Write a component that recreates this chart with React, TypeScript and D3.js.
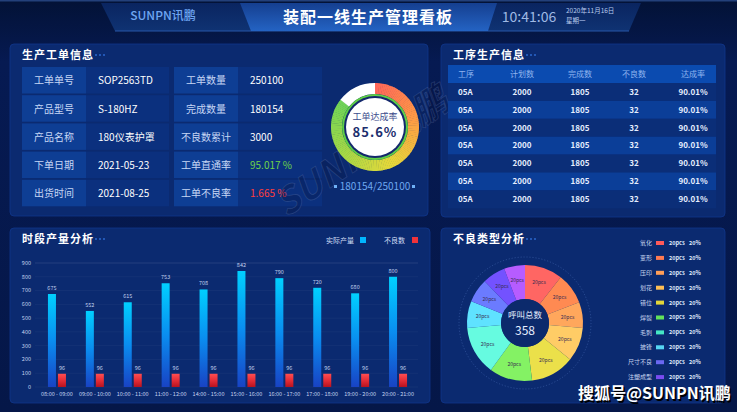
import React from 'react';
import * as d3 from 'd3';

const W = 737, H = 412;
const FONT = '"Noto Sans CJK SC", "Noto Sans", sans-serif';

// ---- data ----
const headerTitle = '装配一线生产管理看板';
const brand = 'SUNPN讯鹏';
const clock = '10:41:06';
const dateText = '2020年11月16日';
const weekText = '星期一';

const infoLeftLabels = ['工单单号', '产品型号', '产品名称', '下单日期', '出货时间'];
const infoLeftValues = ['SOP2563TD', 'S-180HZ', '180仪表护罩', '2021-05-23', '2021-08-25'];
const infoRightLabels = ['工单数量', '完成数量', '不良数累计', '工单直通率', '工单不良率'];
const infoRightValues = ['250100', '180154', '3000', '95.017 %', '1.665 %'];
const infoRightColors = ['#ffffff', '#ffffff', '#ffffff', '#6fd34a', '#ff3d3d'];

const gaugeRate = 85.6;
const completedQty = 180154;
const orderQty = 250100;

const processHeaders = ['工序', '计划数', '完成数', '不良数', '达成率'];
const processRows = [
  ['05A', '2000', '1805', '32', '90.01%'],
  ['05A', '2000', '1805', '32', '90.01%'],
  ['05A', '2000', '1805', '32', '90.01%'],
  ['05A', '2000', '1805', '32', '90.01%'],
  ['05A', '2000', '1805', '32', '90.01%'],
  ['05A', '2000', '1805', '32', '90.01%'],
  ['05A', '2000', '1805', '32', '90.01%'],
];

const hours = ['08:00 - 09:00', '09:00 - 10:00', '10:00 - 11:00', '11:00 - 12:00', '14:00 - 15:00',
  '15:00 - 16:00', '16:00 - 17:00', '17:00 - 18:00', '19:00 - 20:00', '20:00 - 21:00'];
const actualOutput = [675, 552, 615, 753, 708, 842, 790, 720, 680, 800];
const defectCounts = [96, 96, 96, 96, 96, 96, 96, 96, 96, 96];
const yTicks = [0, 100, 200, 300, 400, 500, 600, 700, 800, 900];

const defectTypes = ['氧化', '变形', '压印', '划花', '错位', '焊裂', '毛刺', '披锋', '尺寸不良', '注塑成型'];
const defectPcs = ['20pcs', '20pcs', '20pcs', '20pcs', '20pcs', '20pcs', '20pcs', '20pcs', '20pcs', '20pcs'];
const defectPct = ['20%', '20%', '20%', '20%', '20%', '20%', '20%', '20%', '20%', '20%'];
const legendColors = ['#ff5a5a', '#ff7b52', '#ff9e58', '#ffbf55', '#e2d63a', '#62e25a', '#45e6c4', '#57d6f3', '#6a68f2', '#7a4cf0'];

const pieShares = [38, 31, 26, 34, 44, 43, 49, 27, 24, 23, 21];
const pieLabels = ['20pcs', '20pcs', '20pcs', '20pcs', '20pcs', '20pcs', '20pcs', '20pcs', '20pcs', '20pcs', '20pcs'];
const pieColors = ['#ff6663', '#ff8a52', '#ffa75c', '#ffcc66', '#ebe04a', '#84f264', '#66fbe0', '#5fe2ff', '#6b7bff', '#7352ff', '#b65cff'];
const totalCallsLabel = '呼叫总数';
const totalCalls = 358;

const gaugeStops = ['#ff665a', '#ff9a45', '#e8d83a', '#a4d846', '#70d458'];

function Panel({ x, y, w, h, title }: { x: number; y: number; w: number; h: number; title: string }) {
  return (
    <g>
      <rect x={x} y={y} width={w} height={h} rx={4} fill="#0b2a70" stroke="#10368a" strokeWidth={0.8} />
      <text x={x + 12} y={y + 15} fill="#ffffff" fontSize={11} fontWeight={700} letterSpacing={1} fontFamily={FONT}>{title}</text>
      {[0, 1, 2].map(i => (
        <circle key={i} cx={x + 14 + title.length * 12 + i * 4} cy={y + 11} r={1} fill="#2b67cc" />
      ))}
    </g>
  );
}

export default function App() {
  // ---- gauge ----
  const gcx = 375, gcy = 127;
  const gArc = d3.arc<any>().innerRadius(33).outerRadius(44);
  const filled = (gaugeRate / 100) * Math.PI * 2;
  const gColor = d3.scaleLinear<string>()
    .domain(gaugeStops.map((_, i) => (i / (gaugeStops.length - 1)) * filled))
    .range(gaugeStops).interpolate(d3.interpolateRgb);
  const segN = 120;
  const segs = d3.range(segN).map(i => {
    const a0 = (i / segN) * filled, a1 = ((i + 1) / segN) * filled + 0.01;
    return { a0, a1, c: gColor((a0 + a1) / 2) };
  });

  // ---- bar chart ----
  const xBand = d3.scaleBand<string>().domain(hours).range([38, 417]);
  const yScale = d3.scaleLinear().domain([0, 900]).range([387, 263]);
  const barW = 8;

  // ---- pie ----
  const pcx = 525, pcy = 323;
  const pie = d3.pie<number>().sort(null).value(d => d)(pieShares);
  const pArc = d3.arc<any>().innerRadius(24).outerRadius(58);
  const lArc = d3.arc<any>().innerRadius(43).outerRadius(43);

  // ---- process table ----
  const colX = [458, 522, 580, 634, 693];
  const rowTop = 83, rowH = 17.9;

  return (
    <svg width={W} height={H} viewBox={`0 0 ${W} ${H}`} style={{ position: 'fixed', left: 0, top: 0 }} fontFamily={FONT}>
      <defs>
        <linearGradient id="bg" x1="0" y1="0" x2="0" y2="1">
          <stop offset="0" stopColor="#031236" />
          <stop offset="0.15" stopColor="#061a52" />
          <stop offset="1" stopColor="#051748" />
        </linearGradient>
        <linearGradient id="band" x1="0" y1="0" x2="0" y2="1">
          <stop offset="0" stopColor="#0a2560" />
          <stop offset="1" stopColor="#0f3373" />
        </linearGradient>
        <linearGradient id="titleBand" x1="0" y1="0" x2="0" y2="1">
          <stop offset="0" stopColor="#153f90" />
          <stop offset="1" stopColor="#2463c3" />
        </linearGradient>
        <linearGradient id="blueBar" x1="0" y1="0" x2="0" y2="1">
          <stop offset="0" stopColor="#00d0ff" />
          <stop offset="0.5" stopColor="#0a8df0" />
          <stop offset="1" stopColor="#1843c4" />
        </linearGradient>
        <linearGradient id="redBar" x1="0" y1="0" x2="0" y2="1">
          <stop offset="0" stopColor="#ff4d50" />
          <stop offset="0.45" stopColor="#e8303a" />
          <stop offset="1" stopColor="#b8121e" />
        </linearGradient>
      </defs>

      <rect x={0} y={0} width={W} height={H} fill="url(#bg)" />
      <rect x={0} y={0} width={W} height={1.5} fill="#23407a" />

      {/* header */}
      <polygon points="101,3 641,3 629,31 115,31" fill="url(#band)" />
      <line x1={115} y1={31} x2={629} y2={31} stroke="#2856a8" strokeWidth={1} />
      <polygon points="240,3 497,3 488,31 251,31" fill="url(#titleBand)" />
      <text x={163} y={20} textAnchor="middle" fill="#6fa6f2" fontSize={12} fontWeight={500}>{brand}</text>
      <text x={368} y={23} textAnchor="middle" fill="#ffffff" fontSize={16} fontWeight={700} letterSpacing={1}>{headerTitle}</text>
      <text x={529} y={22} textAnchor="middle" fill="#9fb9e4" fontSize={14}>{clock}</text>
      <text x={566} y={13} fill="#b8cbed" fontSize={6.5}>{dateText}</text>
      <text x={566} y={23} fill="#b8cbed" fontSize={6.5}>{weekText}</text>

      {/* panels */}
      <Panel x={10} y={44} w={418} h={172} title="生产工单信息" />
      <Panel x={441} y={44} w={284} h={173} title="工序生产信息" />
      <Panel x={10} y={228} w={420} h={175} title="时段产量分析" />
      <Panel x={441} y={228} w={284} h={175} title="不良类型分析" />

      {/* info table */}
      {infoLeftLabels.map((lab, i) => {
        const ty = 67 + i * 28.2;
        const cy = ty + 13.8;
        return (
          <g key={lab}>
            <rect x={22} y={ty} width={64} height={26.5} fill="#0e3e94" />
            <rect x={86} y={ty} width={83} height={26.5} fill="#0b307e" />
            <rect x={174} y={ty} width={64} height={26.5} fill="#0e3e94" />
            <rect x={238} y={ty} width={84} height={26.5} fill="#0b307e" />
            <text x={54} y={cy} dy="0.35em" textAnchor="middle" fill="#c6d6f4" fontSize={10}>{lab}</text>
            <text x={98} y={cy} dy="0.35em" fill="#ffffff" fontSize={10}>{infoLeftValues[i]}</text>
            <text x={206} y={cy} dy="0.35em" textAnchor="middle" fill="#c6d6f4" fontSize={10}>{infoRightLabels[i]}</text>
            <text x={250} y={cy} dy="0.35em" fill={infoRightColors[i]} fontSize={10}>{infoRightValues[i]}</text>
          </g>
        );
      })}

      {/* watermark (behind gauge) */}
      <text x={369} y={162} textAnchor="middle" transform="rotate(-34 369 162)" fontSize={36} fontWeight={700} fontStyle="italic"
        fill="rgba(6,18,60,0.28)" stroke="rgba(130,150,200,0.22)" strokeWidth={0.9} fontFamily={FONT}>{brand}</text>

      {/* gauge */}
      <g transform={`translate(${gcx},${gcy})`}>
        {segs.map((s, i) => (
          <path key={i} d={gArc({ startAngle: s.a0, endAngle: s.a1 }) as string} fill={s.c} />
        ))}
        <path d={gArc({ startAngle: filled, endAngle: Math.PI * 2 }) as string} fill="#ffffff" />
        <circle r={33} fill="#5fcf45" />
        <circle r={31} fill="#14286c" />
        <circle r={29} fill="#ffffff" />
        <text y={-7} textAnchor="middle" fill="#3b4c8c" fontSize={9}>工单达成率</text>
        <text y={10} textAnchor="middle" fill="#1c2e6e" fontSize={13} fontWeight={700} letterSpacing={1}>{gaugeRate.toFixed(1)}%</text>
      </g>
      <rect x={334} y={185} width={3} height={3} fill="#6fb0f5" />
      <rect x={412} y={185} width={3} height={3} fill="#6fb0f5" />
      <text x={375} y={190} textAnchor="middle" fill="#6ea8f0" fontSize={10}>{`${completedQty}/${orderQty}`}</text>

      {/* process table */}
      <rect x={448} y={65} width={268} height={18} fill="#0b4bb0" />
      {processHeaders.map((h, j) => (
        <text key={h} x={colX[j]} y={74} dy="0.35em" textAnchor={j === 0 ? 'start' : 'middle'} fill="#8fb5ef" fontSize={8}>{h}</text>
      ))}
      {processRows.map((row, i) => (
        <g key={i}>
          <rect x={448} y={rowTop + i * rowH} width={268} height={rowH} fill={i % 2 === 0 ? '#0b2e78' : '#0b3e98'} />
          {row.map((v, j) => (
            <text key={j} x={colX[j]} y={rowTop + i * rowH + rowH / 2} dy="0.35em" textAnchor={j === 0 ? 'start' : 'middle'} fill="#e6eeff" fontSize={8} fontWeight={700}>{v}</text>
          ))}
        </g>
      ))}

      {/* bar chart */}
      <text x={354} y={243} textAnchor="end" fill="#d2def5" fontSize={7}>实际产量</text>
      <rect x={360} y={237} width={6} height={6} fill="#00b6ff" />
      <text x={405} y={243} textAnchor="end" fill="#d2def5" fontSize={7}>不良数</text>
      <rect x={412} y={237} width={6} height={6} fill="#f0333a" />
      {yTicks.map(t => (
        <g key={t}>
          <line x1={35} x2={418} y1={yScale(t)} y2={yScale(t)} stroke="#ffffff" strokeOpacity={t === 900 ? 0.1 : 0.04} />
          <text x={31} y={yScale(t)} dy="0.35em" textAnchor="end" fill="#c6d4ef" fontSize={5.5}>{t}</text>
        </g>
      ))}
      {hours.map((h, i) => {
        const c = (xBand(h) as number) + xBand.bandwidth() / 2;
        return (
          <g key={h}>
            <rect x={c - 9} y={yScale(actualOutput[i])} width={barW} height={yScale(0) - yScale(actualOutput[i])} fill="url(#blueBar)" />
            <rect x={c + 1} y={yScale(defectCounts[i])} width={barW} height={yScale(0) - yScale(defectCounts[i])} fill="url(#redBar)" />
            <text x={c - 5} y={yScale(actualOutput[i]) - 4} textAnchor="middle" fill="#c2d2ef" fontSize={5.5}>{actualOutput[i]}</text>
            <text x={c + 5} y={yScale(defectCounts[i]) - 4} textAnchor="middle" fill="#c2d2ef" fontSize={5.5}>{defectCounts[i]}</text>
            <text x={c} y={396} textAnchor="middle" fill="#c6d4ef" fontSize={5.5}>{h}</text>
          </g>
        );
      })}

      {/* pie */}
      <circle cx={pcx} cy={pcy} r={66} fill="none" stroke="#5a7fc8" strokeOpacity={0.55} strokeWidth={0.7} strokeDasharray="1.2 1.8" />
      <g transform={`translate(${pcx},${pcy})`}>
        {pie.map((p, i) => (
          <path key={i} d={pArc(p) as string} fill={pieColors[i]} />
        ))}
        {pie.map((p, i) => {
          const [lx, ly] = lArc.centroid(p);
          return <text key={'l' + i} x={lx} y={ly} dy="0.35em" textAnchor="middle" fill="#3a2d52" fontSize={5}>{pieLabels[i]}</text>;
        })}
        <circle r={24} fill="#0c2a6c" />
        <text y={-5} textAnchor="middle" fill="#e6eeff" fontSize={8.5}>{totalCallsLabel}</text>
        <text y={12} textAnchor="middle" fill="#e6eeff" fontSize={12}>{totalCalls}</text>
      </g>
      {defectTypes.map((n, i) => {
        const yy = 243 + i * 14.9;
        return (
          <g key={n}>
            <text x={652} y={yy} dy="0.35em" textAnchor="end" fill="#c6d4ef" fontSize={6}>{n}</text>
            <rect x={656} y={yy - 2} width={8} height={4} fill={legendColors[i]} />
            <text x={669} y={yy} dy="0.35em" fill="#dfe8fb" fontSize={5.5} fontWeight={700}>{defectPcs[i]}</text>
            <text x={689} y={yy} dy="0.35em" fill="#dfe8fb" fontSize={5.5} fontWeight={700}>{defectPct[i]}</text>
          </g>
        );
      })}

      {/* corner watermark */}
      <text x={578} y={399} fill="#000000" fontSize={16} fontWeight={700} transform="translate(1.5,1.5)" fontFamily={FONT}>搜狐号@SUNPN讯鹏</text>
      <text x={578} y={399} fill="#ffffff" fontSize={16} fontWeight={700} fontFamily={FONT}>搜狐号@SUNPN讯鹏</text>
    </svg>
  );
}
